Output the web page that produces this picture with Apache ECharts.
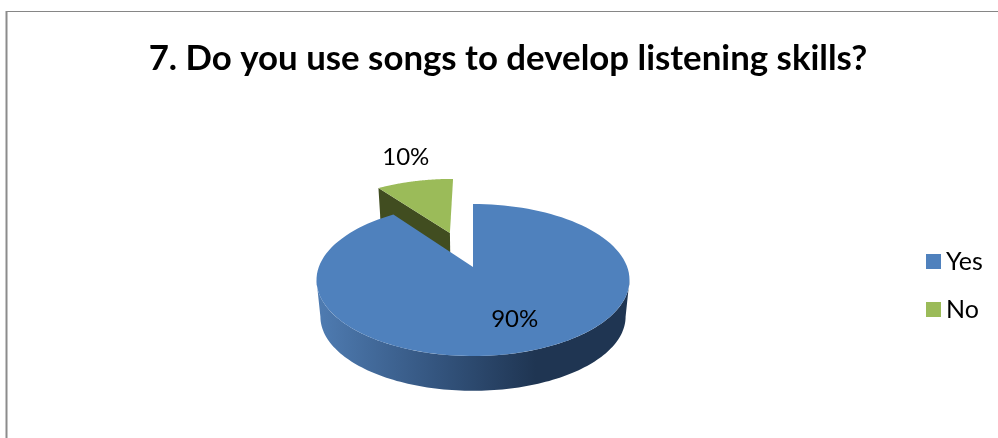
<!DOCTYPE html>
<html><head><meta charset="utf-8">
<style>html,body{margin:0;padding:0;background:#fff}#c{width:998px;height:438px}</style>
<script src="https://cdn.jsdelivr.net/npm/echarts@6/dist/echarts.min.js"></script>
</head><body><div id="c"></div>
<script>
const titleText = '7. Do you use songs to develop listening skills?';
const categories = ['Yes', 'No'];
const values = [90, 10];
const explode = [0, 0.526];
const topColors = ['#4f81bd', '#9bbb59'];

// perspective projection of the pie's unit disk
const F = 'Lato, Carlito, sans-serif';
const x0 = 473, y0 = 267, A = 154.2, B = 73.8, P = 0.171, depthY = 37, baseK = 0.975;
const total = values.reduce((a, b) => a + b, 0);
function project(u, v, base) {
  const w = 1 + P * v, k = base ? baseK : 1;
  return [x0 + A * k * u / w, y0 + (base ? depthY : 0) - B * k * v / w];
}
function sliceAngles(i) {
  let s = 0;
  for (let j = 0; j < i; j++) s += values[j];
  return [s / total * 2 * Math.PI, (s + values[i]) / total * 2 * Math.PI];
}
function offsetOf(i) {
  const [a, b] = sliceAngles(i), m = (a + b) / 2;
  return [explode[i] * Math.sin(m), explode[i] * Math.cos(m)];
}
function arc(i, a, b, base, r) {
  const [ou, ov] = offsetOf(i), pts = [], n = 120;
  for (let k = 0; k <= n; k++) {
    const t = a + (b - a) * k / n;
    pts.push(project(ou + (r || 1) * Math.sin(t), ov + (r || 1) * Math.cos(t), base));
  }
  return pts;
}
const labelPlace = [
  { r: 0.6, dx: 10, dy: 6, size: 24 },
  { r: 1, dx: -9, dy: -24, size: 24 }
];
function renderSlice(i) {
  return function (params, api) {
    const value = api.value(0);
    const [a, b] = sliceAngles(i);
    const [ou, ov] = offsetOf(i);
    const children = [];
    if (i === 0) {
      const t = Math.acos(-P);
      const front = arc(i, t, 2 * Math.PI - t, false).concat(arc(i, t, 2 * Math.PI - t, true).reverse());
      children.push({
        type: 'polygon', shape: { points: front },
        style: { fill: new echarts.graphic.LinearGradient(0, 0, 1, 0, [
          { offset: 0, color: '#4f7cb2' }, { offset: 0.38, color: '#34557f' },
          { offset: 0.7, color: '#1f3552' }, { offset: 1, color: '#1f3552' }
        ]) }
      });
    } else {
      const tipT = project(ou + Math.sin(a), ov + Math.cos(a), false);
      const tipB = project(ou + Math.sin(a), ov + Math.cos(a), true);
      const apT = project(ou, ov, false), apB = project(ou, ov, true);
      children.push({ type: 'polygon', shape: { points: [apT, tipT, tipB, apB] }, style: { fill: '#414d20' } });
    }
    const face = [project(ou, ov, false)].concat(arc(i, a, b, false));
    children.push({ type: 'polygon', shape: { points: face }, style: { fill: topColors[i] } });
    const m = (a + b) / 2, pl = labelPlace[i];
    const lp = project(ou + pl.r * Math.sin(m), ov + pl.r * Math.cos(m), false);
    children.push({
      type: 'text', z2: 10,
      style: { text: value + '%', x: lp[0] + pl.dx, y: lp[1] + pl.dy, fontSize: pl.size, fontFamily: F,
        fill: '#000', align: 'center', verticalAlign: 'middle' }
    });
    return { type: 'group', children };
  };
}
const chart = echarts.init(document.getElementById('c'), null, { renderer: 'canvas' });
chart.setOption({
  animation: false,
  backgroundColor: '#fff',
  title: { text: titleText, left: 503, top: 36, textAlign: 'center',
    textStyle: { fontFamily: F, fontWeight: 'bold', fontSize: 34.8, color: '#000' } },
  legend: {
    orient: 'vertical', left: 926, top: 249, padding: 0, itemWidth: 15, itemHeight: 15, itemGap: 23, icon: 'rect',
    data: categories, textStyle: { fontFamily: F, fontSize: 25, color: '#000' }, selectedMode: false
  },
  graphic: [
    { type: 'line', shape: { x1: 6, y1: 11.5, x2: 998, y2: 11.5 }, style: { stroke: '#868686', lineWidth: 1 } },
    { type: 'line', shape: { x1: 6.5, y1: 11, x2: 6.5, y2: 438 }, style: { stroke: '#8c8c8c', lineWidth: 2 } }
  ],
  series: [1, 0].map(i => ({
    type: 'custom', name: categories[i], coordinateSystem: 'none', z: 2 + (1 - i), silent: true,
    itemStyle: { color: topColors[i] }, data: [[values[i]]], renderItem: renderSlice(i)
  }))
});
</script></body></html>
